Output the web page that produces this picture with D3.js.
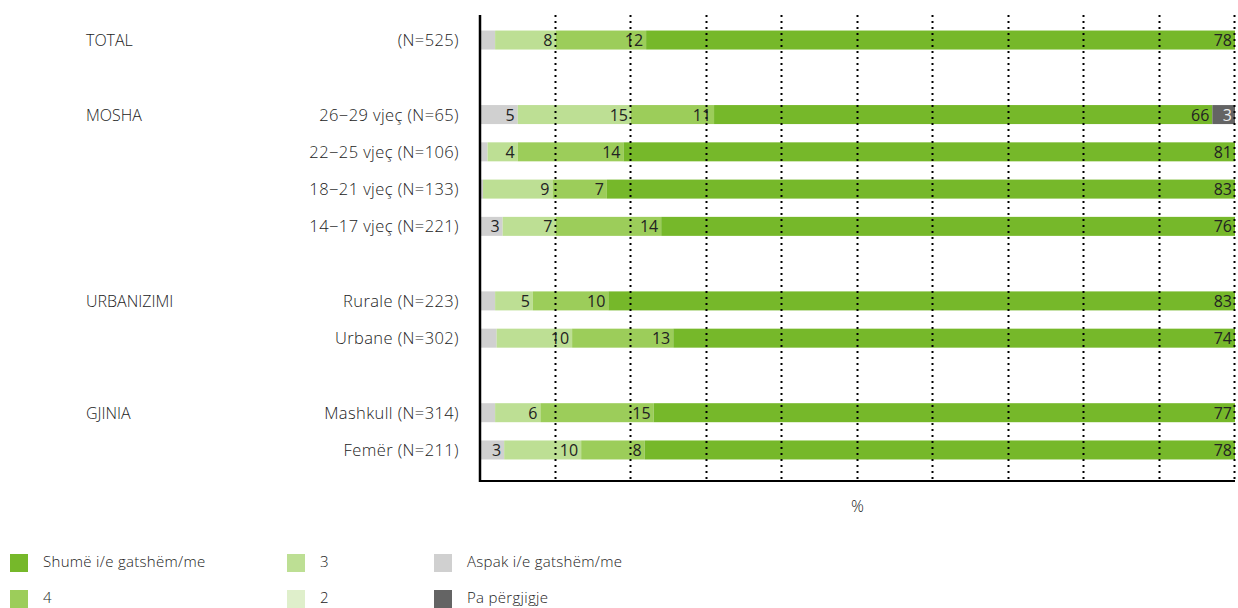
<!DOCTYPE html>
<html>
<head>
<meta charset="utf-8">
<script src="https://cdn.jsdelivr.net/npm/d3@7"></script>
<style>
  body { margin: 0; background: #fff; }
  text { font-family: "Open Sans", "Noto Sans", sans-serif; font-weight: 300; fill: #222; }
  .val { font-weight: 400; }
</style>
</head>
<body>
<script>
// rows of the chart (gap rows separate the groups)
var rows = ["TOTAL", "gap1", "26-29", "22-25", "18-21", "14-17", "gap2", "Rurale", "Urbane", "gap3", "Mashkull", "Femer"];
var rowLabels = ["(N=525)", "", "26\u221229 vjeç (N=65)", "22\u221225 vjeç (N=106)", "18\u221221 vjeç (N=133)",
                 "14\u221217 vjeç (N=221)", "", "Rurale (N=223)", "Urbane (N=302)", "",
                 "Mashkull (N=314)", "Femër (N=211)"];
var groups = [["TOTAL", "TOTAL"], ["MOSHA", "26-29"], ["URBANIZIMI", "Rurale"], ["GJINIA", "Mashkull"]];

var barRows = ["TOTAL", "26-29", "22-25", "18-21", "14-17", "Rurale", "Urbane", "Mashkull", "Femer"];

// values in %, stacked left to right
var aspak   = [2, 5, 1, 0.4, 3, 2, 2.2, 2, 3.2];
var two     = [0, 0, 0, 0, 0, 0, 0, 0, 0];
var three   = [8, 15, 4, 9.2, 7, 5, 10, 6, 10.2];
var four    = [12, 11, 14, 7.2, 14, 10, 13.4, 15, 8.4];
var shume   = [78, 66, 81, 83.2, 76, 83, 74.4, 77, 78.2];
var paPerg  = [0, 3, 0, 0, 0, 0, 0, 0, 0];

var xTicks = [0, 10, 20, 30, 40, 50, 60, 70, 80, 90, 100];

var series = [
  {key: "aspak", name: "Aspak i/e gatshëm/me", values: aspak, color: "#d0d0d0", text: "#222"},
  {key: "two", name: "2", values: two, color: "#dfefcb", text: "#222"},
  {key: "three", name: "3", values: three, color: "#bddf94", text: "#222"},
  {key: "four", name: "4", values: four, color: "#9ccd5a", text: "#222"},
  {key: "shume", name: "Shumë i/e gatshëm/me", values: shume, color: "#76b82a", text: "#222"},
  {key: "pa", name: "Pa përgjigje", values: paPerg, color: "#646464", text: "#eee"}
];

var width = 1238, height = 608;
var x0 = 480, x1 = 1235;

var svg = d3.select("body").append("svg")
    .attr("width", width)
    .attr("height", height);

var xScale = d3.scaleLinear().domain([0, 100]).range([x0, x1]);
var yScale = d3.scaleBand().domain(rows).range([21.4, 468.6]).paddingInner(0.49).paddingOuter(0.245);

// build the stack table
var table = barRows.map(function(r, i) {
  var o = {row: r};
  series.forEach(function(s) { o[s.key] = s.values[i]; });
  return o;
});
var stack = d3.stack().keys(series.map(function(s) { return s.key; }));
var stacked = stack(table);

// bars
stacked.forEach(function(layer, li) {
  var s = series[li];
  svg.append("g").selectAll("rect")
    .data(layer)
    .enter().append("rect")
    .attr("x", function(d) { return xScale(d[0]); })
    .attr("y", function(d) { return yScale(d.data.row); })
    .attr("width", function(d) { return xScale(d[1]) - xScale(d[0]); })
    .attr("height", yScale.bandwidth())
    .attr("fill", s.color);
});

// dotted gridlines
svg.append("g").selectAll("line")
  .data(xTicks.slice(1))
  .enter().append("line")
  .attr("x1", function(d) { return Math.round(xScale(d)) - 0.5; })
  .attr("x2", function(d) { return Math.round(xScale(d)) - 0.5; })
  .attr("y1", 15)
  .attr("y2", 481)
  .attr("stroke", "#000")
  .attr("stroke-width", 2)
  .attr("stroke-dasharray", "2,4");

// value labels
stacked.forEach(function(layer, li) {
  var s = series[li];
  svg.append("g").selectAll("text")
    .data(layer.filter(function(d) { return d[1] - d[0] >= 3; }))
    .enter().append("text")
    .attr("class", "val")
    .attr("x", function(d) { return xScale(d[1]) - 3; })
    .attr("y", function(d) { return yScale(d.data.row) + yScale.bandwidth() / 2 + 6; })
    .attr("text-anchor", "end")
    .style("font-size", "16px")
    .style("fill", s.text)
    .text(function(d) { return Math.round(d[1] - d[0]); });
});

// axes lines
svg.append("line")
  .attr("x1", x0).attr("x2", x0)
  .attr("y1", 15).attr("y2", 482)
  .attr("stroke", "#000").attr("stroke-width", 2.5);
svg.append("line")
  .attr("x1", x0).attr("x2", x1)
  .attr("y1", 481).attr("y2", 481)
  .attr("stroke", "#000").attr("stroke-width", 2);

svg.append("text")
  .attr("x", (x0 + x1) / 2)
  .attr("y", 512)
  .attr("text-anchor", "middle")
  .style("font-size", "16px")
  .text("%");

// row labels
svg.append("g").selectAll("text")
  .data(rows.map(function(r, i) { return {row: r, label: rowLabels[i]}; }).filter(function(d) { return d.label; }))
  .enter().append("text")
  .attr("x", 459)
  .attr("y", function(d) { return yScale(d.row) + yScale.bandwidth() / 2 + 6; })
  .attr("text-anchor", "end")
  .style("font-size", "16.5px")
  .style("letter-spacing", "0.4px")
  .text(function(d) { return d.label; });

// group labels
svg.append("g").selectAll("text")
  .data(groups)
  .enter().append("text")
  .attr("x", 86)
  .attr("y", function(d) { return yScale(d[1]) + yScale.bandwidth() / 2 + 6; })
  .style("font-size", "16px")
  .text(function(d) { return d[0]; });

// legend
var legendOrder = ["shume", "four", "three", "two", "aspak", "pa"];
var legend = svg.append("g").selectAll("g")
  .data(legendOrder.map(function(k) { return series.find(function(s) { return s.key === k; }); }))
  .enter().append("g")
  .attr("transform", function(d, i) {
    var col = Math.floor(i / 2), row = i % 2;
    return "translate(" + [10, 287, 434][col] + "," + (554 + row * 36) + ")";
  });
legend.append("rect")
  .attr("width", 18).attr("height", 18)
  .attr("fill", function(d) { return d.color; });
legend.append("text")
  .attr("x", 33)
  .attr("y", 13)
  .style("font-size", "15px")
  .style("letter-spacing", "0.3px")
  .text(function(d) { return d.name; });
</script>
</body>
</html>
